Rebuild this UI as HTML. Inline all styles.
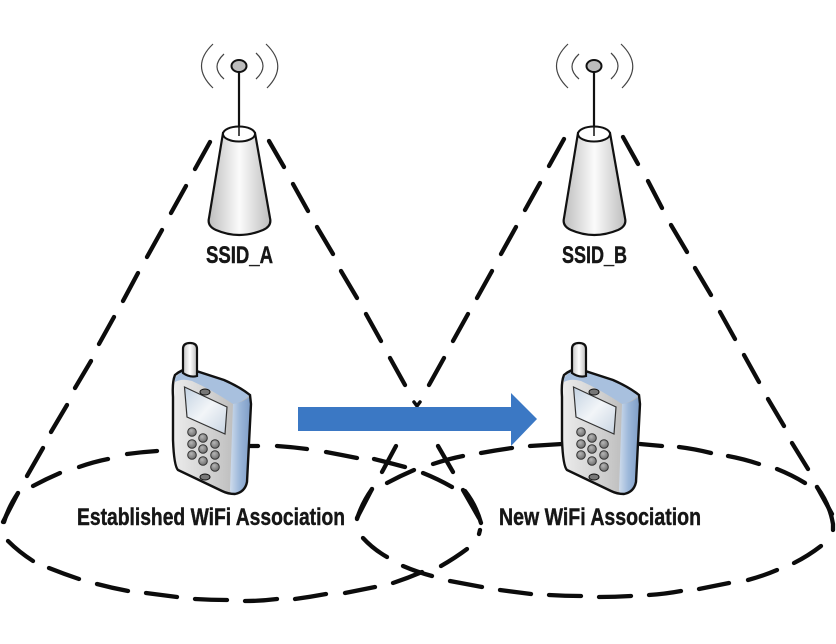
<!DOCTYPE html>
<html><head><meta charset="utf-8">
<style>html,body{margin:0;padding:0;background:#fff;width:836px;height:644px;overflow:hidden}svg{display:block}
text{font-family:"Liberation Sans Narrow","Liberation Sans",sans-serif;font-weight:700;font-size:24px;fill:#161616;stroke:#161616;stroke-width:.45px}</style></head>
<body>
<svg width="836" height="644" viewBox="0 0 836 644" xmlns="http://www.w3.org/2000/svg">
<defs>
<linearGradient id="cone" x1="0" x2="1" y1="0" y2="0"><stop offset="0" stop-color="#bdbdbd"/><stop offset=".5" stop-color="#fbfbfb"/><stop offset="1" stop-color="#bdbdbd"/></linearGradient>
<linearGradient id="face" x1="0" x2="1" y1="0" y2="0"><stop offset="0" stop-color="#ececec"/><stop offset=".55" stop-color="#cdcdcd"/><stop offset="1" stop-color="#b0b0b0"/></linearGradient>
<linearGradient id="side" x1="0" x2="1" y1="0" y2="0"><stop offset="0" stop-color="#cfdcec"/><stop offset=".45" stop-color="#9db8da"/><stop offset="1" stop-color="#7d9cc6"/></linearGradient>
<linearGradient id="scr" x1="0" x2="1" y1="0" y2="1"><stop offset="0" stop-color="#c3d2e2"/><stop offset=".5" stop-color="#f2f5f8"/><stop offset="1" stop-color="#c8d4e2"/></linearGradient>
<linearGradient id="ant" x1="0" x2="1" y1="0" y2="0"><stop offset="0" stop-color="#c4c4c4"/><stop offset=".5" stop-color="#fff"/><stop offset="1" stop-color="#bbb"/></linearGradient>
<radialGradient id="btn" cx=".4" cy=".35" r=".7"><stop offset="0" stop-color="#b5b5b5"/><stop offset="1" stop-color="#6a6a6a"/></radialGradient>
<g id="ap">
<g fill="none" stroke="#444" stroke-width="1.2">
<path d="M213 44Q190 66 213 88"/><path d="M224 54Q210 67 224 79"/>
<path d="M266 44Q289 66 267 88"/><path d="M256 53Q270 66 256 79"/>
</g>
<path d="M239 72V134" stroke="#111" stroke-width="2.2" fill="none"/>
<ellipse cx="239" cy="66" rx="7.5" ry="6" fill="#bcbcbc" stroke="#111" stroke-width="2"/>
<path d="M223 133L209 218Q207 226 216 230Q239 240 263 230Q272 226 270 218L255 133Z" fill="url(#cone)" stroke="#111" stroke-width="2.2"/>
<ellipse cx="239" cy="134" rx="16" ry="7.5" fill="#fff" stroke="#111" stroke-width="2"/>
<path d="M239 127V136" stroke="#111" stroke-width="1.5"/>
</g>
<g id="phone">
<path d="M175 375Q182 369 190 369L224 380Q240 387 250 395L251 404L247 482Q245 492 235 494Q228 494 222 491L178 470Q174 466 173 440L173 397Q172 382 175 375Z" fill="url(#face)"/>
<path d="M175 378Q182 369 190 369L224 380Q240 387 250 395Q242 403 233 404Q212 390 192 381Q182 378 175 382Z" fill="#a8c0de"/>
<path d="M233 404Q242 403 251 396L247 482Q245 492 235 494Q230 494 230 490Z" fill="url(#side)"/>
<path d="M175 375Q182 369 190 369L224 380Q240 387 250 395L251 404L247 482Q245 492 235 494Q228 494 222 491L178 470Q174 466 173 440L173 397Q172 382 175 375Z" fill="none" stroke="#111" stroke-width="2.4"/>
<path d="M183 373V349Q183 343 190 343Q197 343 197 349V376Q190 378 183 373Z" fill="url(#ant)" stroke="#111" stroke-width="2.2"/>
<path d="M184.500 387L227 407L225 434L187 417Z" fill="url(#scr)" stroke="#333" stroke-width="1.2"/>
<ellipse cx="205" cy="392" rx="5" ry="3" fill="#777" stroke="#111" stroke-width="1"/>
<ellipse cx="205" cy="477" rx="5" ry="3" fill="#777" stroke="#111" stroke-width="1"/>
<g fill="url(#btn)" stroke="#333" stroke-width="1">
<circle cx="192" cy="432" r="4.300"/><circle cx="203" cy="438" r="4.300"/><circle cx="215" cy="444" r="4.300"/>
<circle cx="192" cy="444" r="4.300"/><circle cx="203" cy="449" r="4.300"/><circle cx="215" cy="455" r="4.300"/>
<circle cx="192" cy="455" r="4.300"/><circle cx="203" cy="461" r="4.300"/><circle cx="215" cy="467" r="4.300"/>
</g>
</g>
</defs>
<rect width="836" height="644" fill="#fff"/>
<g fill="none" stroke="#0c0c0c" stroke-width="4.300" stroke-linecap="round">
<path d="M210 142L195 169M186 186L171 213M162 230L147 257M138 273L123 301M114 317L99 344M91 361L75 388M67 405L51 432M43 448L27 476M18 493L3 522"/>
<path d="M269 141L284 167M293 184L308 211M317 227L333 254M341 271L357 298M366 314L381 341M390 358L405 385M438 446L453 472M463 490L479 518"/>
<path d="M564 139L549 166M540 183L525 210M516 227L501 254M492 271L477 298M468 314L453 341M444 358L429 385M396 446L382 472M372 489L357 518"/>
<path d="M623 137L638 164M648 181L662 208M671 225L687 252M695 268L711 295M720 312L735 339M744 355L759 382M768 399L784 426M792 443L808 469M817 487L832 514"/>
<path d="M4 522Q8 508 18 493M33 486Q46 479 60 473M79 467Q93 462 108 459M127 454Q142 452 157 451M250 446L258 446M277 446Q292 447 307 449M326 452Q342 455 357 458M374 459Q390 463 405 467M423 473Q438 479 452 487M465 491Q476 505 481 523M480 530L479 534M467 549Q455 558 441 566M422 572Q408 578 393 583M375 587Q360 590 345 593M326 594Q310 597 295 599M277 599Q261 601 245 601M227 600Q211 600 195 599M177 597Q161 595 146 593M128 591Q112 588 97 584M79 579Q64 574 49 568M33 561Q19 552 8 541"/>
<path d="M372 489Q362 503 357 519M363 538Q373 549 387 557M403 566Q417 572 432 576M450 581Q466 584 482 587M500 590Q515 592 531 594M549 595Q565 596 581 596M599 597Q615 597 631 596M649 595Q665 594 681 591M699 589Q714 586 729 583M748 580Q763 576 777 570M794 563Q808 556 821 546M833 530L833 524Q830 505 817 487M805 483Q792 475 777 469M759 464Q744 459 728 456M711 453Q695 449 679 447M662 446L640 444M562 444Q546 445 530 446M512 448Q497 450 481 453M463 456Q448 459 433 464M414 470Q400 476 387 483"/>
<path d="M414 402L417 406L420 402" stroke-width="3.500"/>
</g>
<use href="#ap"/>
<use href="#ap" x="355"/>
<use href="#phone"/>
<use href="#phone" x="389"/>
<path d="M298 407H511V393L537 419L511 446V431H298Z" fill="#3b78c4"/>
<text x="206" y="263" textLength="67" lengthAdjust="spacingAndGlyphs">SSID_A</text>
<text x="562" y="263" textLength="65" lengthAdjust="spacingAndGlyphs">SSID_B</text>
<text x="77" y="525" textLength="268" lengthAdjust="spacingAndGlyphs">Established WiFi Association</text>
<text x="499" y="525" textLength="202" lengthAdjust="spacingAndGlyphs">New WiFi Association</text>
</svg>
</body></html>
